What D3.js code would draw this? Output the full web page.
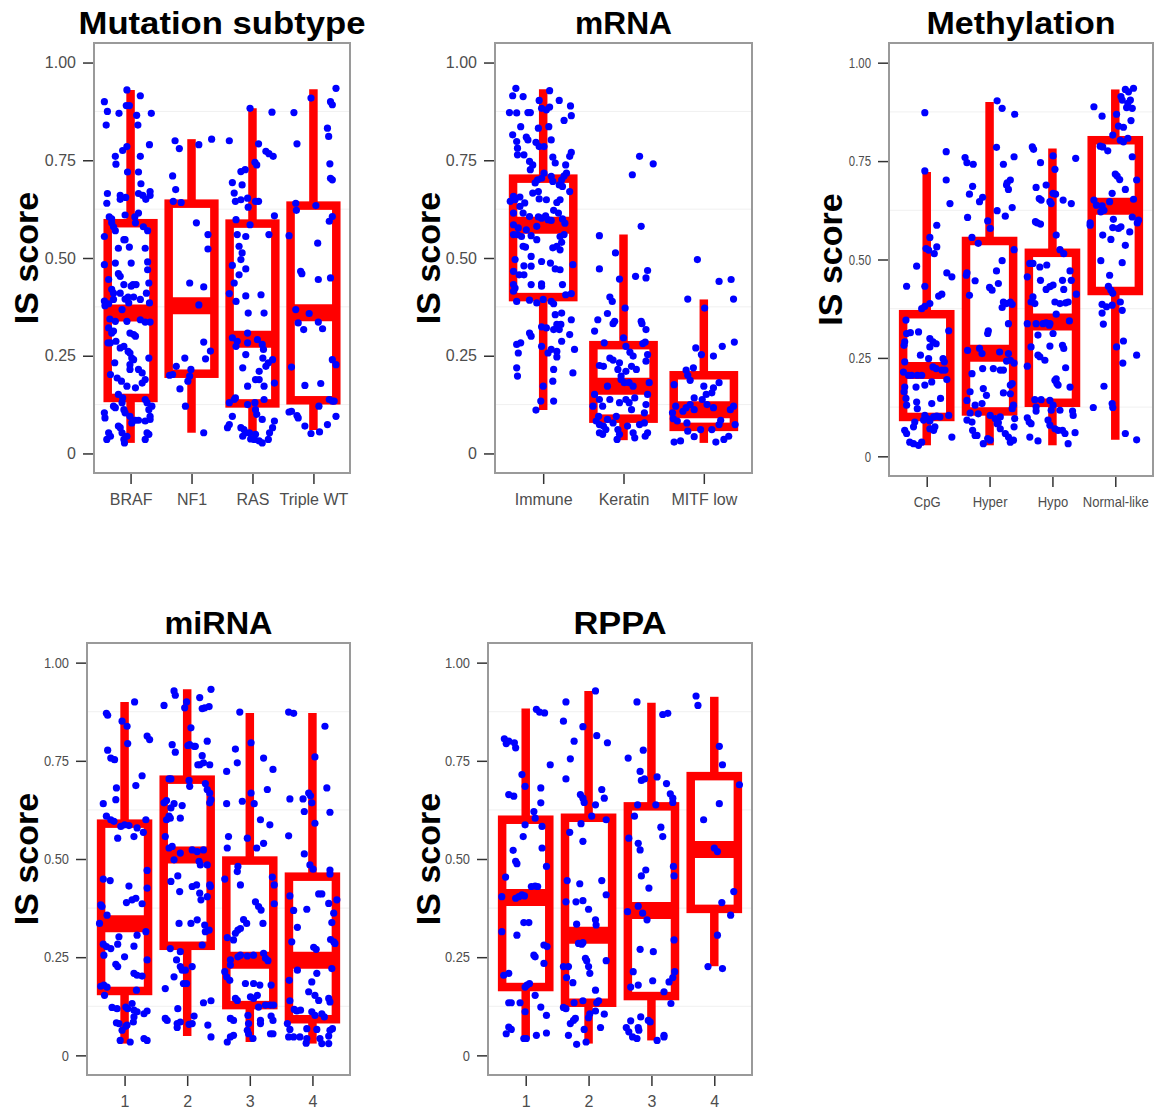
<!DOCTYPE html>
<html><head><meta charset="utf-8">
<script src="https://cdn.jsdelivr.net/npm/d3@7/dist/d3.min.js"></script>
<style>body{margin:0;background:#fff}svg{display:block}</style>
</head><body>
<svg id="chart" width="1156" height="1112"></svg>
<script>
// ---------------- DATA ----------------
const yTickValues = [0, 0.25, 0.5, 0.75, 1];
const yTickLabels = ["0", "0.25", "0.50", "0.75", "1.00"];
const gridValues = [0.125, 0.375, 0.625, 0.875];
const yAxisTitle = "IS score";

// box stats: [min, q1, median, q3, max]
const mutCategories = ["BRAF", "NF1", "RAS", "Triple WT"];
const mutBoxes = [[0.027,0.142,0.359,0.589,0.93],[0.053,0.204,0.378,0.639,0.804],[0.032,0.128,0.292,0.588,0.883],[0.06,0.136,0.36,0.634,0.932]];
const mrnaCategories = ["Immune", "Keratin", "MITF low"];
const mrnaBoxes = [[0.111,0.40,0.584,0.703,0.932],[0.034,0.089,0.172,0.277,0.56],[0.027,0.068,0.112,0.20,0.394]];
const methCategories = ["CpG", "Hyper", "Hypo", "Normal-like"];
const methBoxes = [[0.028,0.10,0.218,0.361,0.722],[0.028,0.114,0.262,0.547,0.90],[0.028,0.136,0.341,0.517,0.782],[0.042,0.42,0.635,0.803,0.932]];
const mirnaCategories = ["1", "2", "3", "4"];
const mirnaBoxes = [[0.03,0.164,0.335,0.59,0.90],[0.049,0.279,0.51,0.702,0.932],[0.034,0.128,0.242,0.496,0.872],[0.03,0.092,0.242,0.455,0.872]];
const rppaCategories = ["1", "2", "3", "4"];
const rppaBoxes = [[0.043,0.174,0.402,0.60,0.883],[0.03,0.134,0.306,0.605,0.928],[0.038,0.151,0.369,0.634,0.898],[0.227,0.373,0.524,0.711,0.913]];

// jittered points: [horizontal jitter (category units), IS score]
const mutBRAF = [[-0.43,0.90],[-0.38,0.875],[-0.40,0.84],[-0.19,0.87],[-0.06,0.93],[0.16,0.915],[-0.07,0.89],[-0.02,0.89],[0.10,0.865],[0.12,0.84],[0.34,0.87],[0.31,0.79],[-0.25,0.76],[-0.24,0.74],[-0.13,0.775],[-0.06,0.785],[-0.05,0.72],[0.16,0.76],[0.13,0.72],[0.17,0.69],[0.13,0.665],[0.20,0.66],[0.25,0.65],[0.32,0.67],[0.32,0.66],[-0.38,0.665],[-0.39,0.64],[-0.17,0.66],[-0.08,0.655],[-0.35,0.605],[-0.31,0.60],[-0.17,0.65],[0.07,0.605],[0.13,0.615],[-0.31,0.59],[-0.28,0.58],[-0.25,0.57],[-0.43,0.555],[-0.09,0.61],[-0.09,0.547],[0.08,0.59],[0.21,0.58],[0.28,0.57],[-0.20,0.525],[-0.11,0.547],[-0.02,0.528],[0.01,0.487],[0.24,0.525],[0.28,0.49],[0.28,0.47],[-0.43,0.483],[-0.25,0.487],[-0.20,0.46],[-0.17,0.453],[-0.11,0.432],[-0.36,0.445],[-0.31,0.42],[-0.28,0.41],[-0.17,0.41],[-0.04,0.40],[0.01,0.428],[0.04,0.432],[0.09,0.432],[-0.09,0.395],[-0.03,0.385],[0.05,0.40],[0.16,0.394],[0.26,0.41],[0.30,0.436],[0.31,0.385],[-0.43,0.39],[-0.36,0.383],[-0.42,0.378],[-0.28,0.394],[-0.14,0.368],[-0.34,0.344],[-0.25,0.338],[-0.36,0.321],[-0.28,0.313],[-0.31,0.308],[-0.06,0.338],[-0.01,0.308],[0.05,0.304],[0.08,0.30],[0.16,0.342],[0.24,0.336],[0.32,0.336],[-0.37,0.283],[-0.33,0.283],[-0.24,0.287],[-0.17,0.27],[-0.11,0.274],[-0.04,0.261],[-0.01,0.257],[0.02,0.244],[0.05,0.24],[-0.01,0.227],[-0.01,0.215],[0.13,0.215],[0.19,0.206],[0.30,0.244],[-0.26,0.232],[-0.33,0.202],[-0.22,0.193],[-0.15,0.185],[-0.06,0.172],[0.24,0.189],[0.19,0.18],[0.08,0.168],[-0.20,0.151],[-0.13,0.142],[-0.14,0.13],[-0.11,0.112],[-0.09,0.104],[-0.01,0.095],[0.02,0.078],[0.08,0.085],[0.13,0.085],[0.24,0.083],[-0.43,0.104],[-0.42,0.091],[-0.36,0.053],[-0.39,0.036],[-0.33,0.044],[-0.28,0.121],[-0.25,0.117],[-0.20,0.07],[-0.17,0.066],[-0.14,0.053],[-0.11,0.036],[-0.10,0.027],[-0.06,0.044],[0.24,0.138],[0.27,0.13],[0.30,0.112],[0.32,0.095],[0.35,0.121],[0.27,0.053],[0.30,0.049],[0.24,0.036],[0.32,0.087]];
const mutNF1 = [[-0.27,0.80],[-0.20,0.78],[0.12,0.79],[-0.31,0.71],[-0.26,0.675],[-0.30,0.645],[-0.17,0.642],[0.08,0.59],[0.27,0.56],[0.27,0.523],[-0.03,0.436],[0.20,0.426],[0.12,0.38],[0.20,0.285],[0.31,0.262],[0.23,0.242],[-0.11,0.244],[-0.25,0.223],[-0.36,0.20],[-0.31,0.202],[-0.01,0.215],[-0.03,0.198],[-0.06,0.185],[-0.19,0.165],[-0.10,0.121],[0.20,0.053],[0.33,0.804]];
const mutRAS = [[-0.38,0.80],[-0.04,0.883],[0.10,0.792],[0.32,0.873],[0.04,0.745],[0.07,0.738],[0.22,0.773],[0.27,0.767],[0.34,0.76],[-0.33,0.693],[-0.30,0.666],[-0.19,0.721],[-0.12,0.726],[-0.17,0.687],[-0.19,0.649],[-0.28,0.645],[-0.27,0.598],[-0.08,0.653],[-0.07,0.63],[0.05,0.645],[0.10,0.645],[-0.04,0.585],[0.36,0.608],[-0.25,0.56],[-0.11,0.555],[0.27,0.56],[-0.22,0.53],[-0.17,0.513],[-0.19,0.496],[-0.11,0.472],[-0.22,0.457],[-0.33,0.481],[-0.30,0.436],[-0.38,0.409],[-0.27,0.389],[-0.11,0.403],[0.14,0.406],[-0.07,0.359],[0.19,0.359],[-0.08,0.308],[-0.33,0.296],[-0.25,0.287],[-0.08,0.283],[-0.27,0.274],[-0.11,0.253],[0.08,0.291],[0.16,0.279],[0.05,0.189],[0.18,0.266],[0.17,0.244],[0.33,0.24],[0.22,0.223],[0.36,0.18],[-0.16,0.219],[-0.08,0.172],[0.11,0.189],[0.19,0.172],[0.26,0.232],[0.11,0.21],[-0.38,0.13],[-0.30,0.138],[-0.28,0.142],[-0.08,0.125],[0.04,0.13],[0.19,0.138],[-0.33,0.095],[-0.38,0.074],[-0.41,0.066],[-0.19,0.066],[-0.14,0.061],[-0.16,0.044],[-0.11,0.053],[-0.05,0.053],[0.05,0.112],[0.07,0.10],[0.16,0.087],[0.05,0.049],[0.11,0.032],[0.16,0.027],[0.26,0.036],[0.28,0.053],[0.33,0.066],[0.36,0.083],[-0.03,0.037],[0.03,0.036]];
const mutTripleWT = [[-0.32,0.872],[-0.27,0.792],[-0.04,0.909],[0.37,0.934],[0.28,0.90],[0.31,0.892],[0.23,0.832],[0.25,0.811],[0.27,0.741],[0.28,0.704],[0.31,0.70],[-0.29,0.64],[-0.28,0.622],[-0.40,0.557],[0.04,0.634],[0.31,0.606],[0.26,0.594],[0.07,0.538],[-0.19,0.46],[-0.21,0.466],[0.08,0.445],[0.28,0.449],[-0.29,0.368],[-0.25,0.334],[-0.16,0.317],[-0.07,0.358],[0.08,0.336],[0.15,0.319],[0.31,0.24],[0.37,0.227],[-0.36,0.221],[-0.14,0.174],[0.12,0.179],[-0.36,0.108],[-0.40,0.106],[-0.27,0.097],[-0.25,0.091],[-0.14,0.07],[-0.04,0.051],[0.10,0.055],[0.09,0.121],[0.23,0.074],[0.34,0.134],[0.37,0.095],[0.26,0.138],[0.31,0.134]];

const mrnaImmune = [[-0.34,0.934],[-0.38,0.915],[-0.25,0.913],[0.08,0.928],[-0.05,0.903],[0.20,0.903],[0.34,0.889],[0.35,0.864],[0.26,0.852],[-0.42,0.872],[-0.33,0.871],[-0.19,0.872],[-0.16,0.872],[-0.02,0.883],[0.04,0.879],[0.08,0.886],[-0.28,0.836],[-0.06,0.832],[0.07,0.836],[-0.38,0.815],[-0.33,0.798],[-0.21,0.809],[-0.19,0.802],[-0.09,0.796],[-0.05,0.785],[0.10,0.802],[0.01,0.785],[-0.32,0.781],[-0.32,0.764],[-0.24,0.764],[-0.17,0.747],[-0.13,0.738],[-0.16,0.726],[0.12,0.758],[0.15,0.743],[0.35,0.77],[0.33,0.76],[0.28,0.738],[0.01,0.717],[-0.37,0.658],[-0.41,0.645],[-0.35,0.649],[-0.29,0.656],[-0.13,0.666],[-0.06,0.67],[-0.02,0.704],[-0.07,0.70],[-0.10,0.692],[0.10,0.709],[0.12,0.696],[0.23,0.70],[0.26,0.71],[0.29,0.717],[0.20,0.687],[0.24,0.683],[0.33,0.67],[-0.29,0.632],[-0.23,0.641],[-0.05,0.651],[0.04,0.649],[0.17,0.642],[0.21,0.649],[-0.37,0.615],[-0.25,0.615],[-0.17,0.606],[-0.06,0.605],[-0.02,0.602],[0.03,0.608],[0.13,0.622],[0.19,0.615],[0.24,0.60],[0.27,0.589],[-0.37,0.585],[-0.31,0.577],[-0.21,0.572],[-0.08,0.581],[0.06,0.598],[0.10,0.596],[-0.37,0.56],[-0.32,0.56],[-0.27,0.555],[-0.15,0.557],[-0.08,0.547],[0.21,0.555],[0.26,0.56],[0.23,0.54],[-0.25,0.53],[-0.22,0.528],[-0.15,0.504],[-0.02,0.491],[0.09,0.487],[0.12,0.526],[0.17,0.53],[0.21,0.521],[-0.35,0.496],[-0.24,0.48],[-0.37,0.466],[-0.30,0.457],[-0.24,0.457],[-0.15,0.479],[0.21,0.47],[0.37,0.483],[-0.37,0.432],[-0.35,0.423],[-0.15,0.432],[-0.02,0.434],[-0.02,0.428],[0.15,0.472],[0.24,0.432],[-0.37,0.415],[-0.33,0.389],[-0.17,0.392],[0.00,0.394],[0.10,0.389],[0.13,0.383],[0.28,0.406],[0.35,0.409],[-0.08,0.385],[0.15,0.355],[0.23,0.359],[0.17,0.33],[0.20,0.317],[0.22,0.33],[0.35,0.342],[-0.02,0.324],[0.04,0.321],[0.13,0.317],[-0.17,0.308],[-0.15,0.30],[0.33,0.304],[0.23,0.287],[0.10,0.266],[0.17,0.261],[0.17,0.247],[0.39,0.266],[0.06,0.257],[-0.28,0.283],[-0.33,0.279],[-0.31,0.257],[-0.33,0.219],[-0.32,0.198],[0.13,0.215],[0.12,0.185],[0.37,0.206],[-0.02,0.274],[0.00,0.172],[0.13,0.134],[-0.09,0.111],[-0.03,0.134]];
const mrnaKeratin = [[0.20,0.76],[0.11,0.713],[0.37,0.741],[0.22,0.581],[-0.30,0.557],[-0.30,0.472],[-0.10,0.513],[0.30,0.468],[0.28,0.449],[-0.05,0.446],[0.15,0.453],[-0.17,0.40],[-0.14,0.389],[-0.20,0.358],[0.02,0.372],[-0.11,0.338],[-0.13,0.332],[-0.32,0.342],[-0.36,0.313],[0.22,0.338],[0.23,0.332],[0.28,0.317],[0.27,0.285],[0.24,0.281],[0.00,0.296],[-0.24,0.283],[0.03,0.274],[0.12,0.249],[0.08,0.259],[0.30,0.253],[0.28,0.236],[-0.17,0.244],[-0.13,0.239],[-0.05,0.232],[-0.07,0.215],[-0.03,0.198],[0.03,0.21],[0.10,0.223],[0.16,0.215],[-0.30,0.225],[-0.25,0.223],[-0.20,0.172],[-0.36,0.151],[-0.38,0.121],[-0.30,0.138],[-0.26,0.121],[-0.03,0.189],[0.01,0.181],[0.07,0.181],[0.12,0.172],[-0.17,0.138],[-0.05,0.13],[0.03,0.138],[0.07,0.13],[0.10,0.112],[0.14,0.142],[0.30,0.151],[0.28,0.125],[0.26,0.104],[0.32,0.181],[-0.31,0.095],[-0.34,0.083],[-0.30,0.074],[-0.25,0.07],[-0.22,0.061],[-0.20,0.087],[-0.13,0.078],[-0.09,0.095],[-0.07,0.061],[-0.05,0.049],[-0.08,0.036],[0.05,0.07],[0.12,0.053],[0.14,0.04],[0.20,0.074],[0.26,0.078],[0.30,0.053],[0.27,0.044],[-0.30,0.053],[-0.26,0.049]];
const mrnaMITF = [[-0.08,0.496],[-0.20,0.395],[0.01,0.372],[0.19,0.44],[0.34,0.445],[0.37,0.395],[0.38,0.285],[0.23,0.274],[0.12,0.249],[-0.10,0.27],[-0.03,0.253],[-0.37,0.176],[-0.22,0.213],[-0.13,0.219],[-0.20,0.20],[-0.17,0.187],[0.00,0.172],[0.12,0.168],[0.19,0.181],[0.10,0.155],[0.03,0.151],[-0.02,0.138],[-0.12,0.142],[-0.17,0.125],[-0.22,0.117],[-0.26,0.108],[-0.35,0.121],[-0.39,0.104],[-0.38,0.089],[-0.33,0.083],[-0.21,0.078],[-0.12,0.112],[0.04,0.125],[0.12,0.117],[0.21,0.085],[0.19,0.074],[0.10,0.061],[-0.04,0.061],[-0.12,0.043],[-0.20,0.057],[-0.29,0.032],[-0.37,0.029],[0.15,0.029],[0.25,0.036],[0.31,0.044],[0.33,0.112],[0.39,0.074],[0.37,0.121]];

const methCpG = [[-0.03,0.873],[0.31,0.774],[0.31,0.702],[0.37,0.642],[-0.03,0.725],[0.16,0.587],[0.05,0.556],[-0.01,0.528],[0.03,0.524],[0.12,0.515],[0.16,0.532],[-0.16,0.483],[-0.32,0.432],[-0.03,0.432],[0.19,0.407],[0.24,0.412],[0.05,0.388],[-0.03,0.381],[-0.08,0.375],[0.32,0.466],[0.40,0.456],[-0.33,0.346],[-0.32,0.312],[-0.26,0.314],[-0.13,0.316],[-0.35,0.291],[-0.36,0.282],[0.05,0.299],[0.10,0.291],[0.15,0.286],[-0.10,0.257],[0.03,0.248],[0.26,0.248],[0.28,0.24],[0.35,0.319],[-0.35,0.24],[0.05,0.278],[-0.37,0.214],[-0.29,0.206],[-0.24,0.206],[-0.15,0.206],[-0.08,0.206],[0.10,0.227],[0.15,0.223],[0.24,0.219],[0.29,0.219],[-0.35,0.176],[-0.36,0.164],[-0.17,0.176],[-0.03,0.181],[-0.33,0.147],[-0.32,0.13],[-0.16,0.138],[-0.15,0.121],[0.08,0.189],[0.08,0.134],[0.22,0.147],[-0.03,0.104],[0.01,0.096],[0.05,0.09],[0.11,0.10],[0.16,0.102],[0.21,0.10],[0.35,0.104],[0.05,0.07],[0.11,0.066],[0.13,0.075],[-0.19,0.087],[-0.21,0.075],[-0.35,0.066],[-0.32,0.058],[-0.27,0.036],[-0.21,0.032],[-0.13,0.028],[-0.08,0.036],[0.40,0.049],[-0.05,0.092],[0.32,0.195]];
const methHyper = [[0.12,0.903],[0.20,0.884],[0.40,0.869],[0.11,0.785],[0.22,0.742],[0.39,0.761],[-0.39,0.759],[-0.36,0.746],[-0.26,0.742],[-0.27,0.686],[-0.32,0.666],[-0.11,0.658],[-0.16,0.647],[0.28,0.695],[0.30,0.678],[0.27,0.689],[0.33,0.702],[0.36,0.632],[0.12,0.624],[0.25,0.61],[-0.35,0.607],[-0.03,0.598],[0.01,0.579],[-0.28,0.556],[-0.18,0.541],[0.39,0.525],[0.20,0.497],[0.11,0.471],[-0.36,0.466],[-0.37,0.46],[-0.23,0.446],[0.00,0.429],[0.04,0.422],[0.14,0.439],[-0.32,0.409],[0.22,0.392],[0.27,0.388],[0.33,0.392],[0.36,0.386],[0.20,0.378],[0.30,0.337],[-0.02,0.319],[-0.03,0.312],[-0.35,0.269],[-0.16,0.274],[-0.12,0.261],[0.16,0.265],[0.30,0.261],[0.33,0.244],[0.27,0.242],[0.39,0.237],[-0.28,0.21],[-0.11,0.223],[0.06,0.223],[0.22,0.219],[0.17,0.219],[0.36,0.185],[0.33,0.181],[-0.31,0.164],[-0.05,0.155],[-0.10,0.172],[-0.36,0.142],[-0.23,0.13],[-0.12,0.134],[0.22,0.161],[0.33,0.159],[0.38,0.13],[0.36,0.121],[-0.31,0.11],[-0.28,0.087],[-0.36,0.092],[-0.18,0.108],[-0.27,0.066],[-0.23,0.053],[-0.20,0.053],[-0.10,0.032],[-0.03,0.045],[0.01,0.041],[0.01,0.104],[0.09,0.096],[0.17,0.10],[0.14,0.085],[0.12,0.083],[0.17,0.07],[0.25,0.058],[0.30,0.049],[0.33,0.036],[0.38,0.041],[0.39,0.075],[0.40,0.096]];
const methHypo = [[-0.32,0.786],[-0.30,0.78],[-0.19,0.746],[0.01,0.763],[0.04,0.729],[-0.10,0.689],[-0.26,0.683],[-0.21,0.655],[-0.18,0.651],[-0.24,0.593],[-0.27,0.596],[-0.19,0.59],[-0.04,0.647],[-0.02,0.642],[0.01,0.668],[0.05,0.666],[0.17,0.651],[0.30,0.642],[0.37,0.757],[0.06,0.562],[0.12,0.525],[0.18,0.515],[-0.40,0.456],[-0.36,0.49],[-0.31,0.49],[-0.20,0.481],[-0.09,0.486],[-0.19,0.447],[-0.10,0.424],[-0.04,0.431],[0.01,0.435],[0.04,0.392],[0.12,0.388],[0.28,0.471],[0.30,0.447],[0.16,0.447],[0.18,0.424],[0.38,0.412],[0.21,0.39],[0.25,0.392],[-0.31,0.405],[-0.34,0.392],[-0.28,0.388],[-0.40,0.337],[-0.26,0.337],[-0.15,0.337],[-0.10,0.339],[-0.04,0.337],[-0.05,0.333],[0.27,0.344],[0.06,0.361],[-0.23,0.308],[-0.34,0.278],[-0.04,0.28],[0.01,0.312],[0.16,0.282],[0.18,0.274],[-0.23,0.257],[-0.20,0.253],[-0.12,0.244],[-0.40,0.229],[0.21,0.225],[0.06,0.197],[0.04,0.193],[0.07,0.185],[0.09,0.181],[0.28,0.176],[-0.28,0.144],[-0.18,0.144],[-0.26,0.125],[-0.26,0.115],[-0.04,0.142],[0.01,0.13],[-0.02,0.117],[0.12,0.117],[-0.40,0.098],[-0.37,0.087],[-0.34,0.083],[-0.36,0.049],[-0.23,0.039],[-0.07,0.092],[-0.04,0.079],[0.04,0.07],[0.09,0.066],[0.16,0.066],[0.20,0.058],[0.25,0.032],[0.33,0.104],[0.36,0.06],[0.32,0.115]];
const methNormal = [[-0.34,0.888],[-0.21,0.864],[0.16,0.932],[0.21,0.926],[0.29,0.935],[0.09,0.914],[0.11,0.905],[0.24,0.905],[0.27,0.884],[0.18,0.886],[0.20,0.897],[0.02,0.869],[0.05,0.839],[0.13,0.836],[0.25,0.853],[-0.04,0.816],[0.08,0.803],[0.13,0.799],[0.20,0.808],[-0.24,0.788],[-0.20,0.786],[-0.12,0.776],[0.27,0.761],[0.00,0.717],[0.03,0.712],[0.07,0.703],[0.34,0.702],[0.16,0.678],[0.29,0.653],[-0.34,0.651],[-0.30,0.638],[-0.21,0.636],[-0.18,0.625],[-0.05,0.668],[-0.09,0.647],[-0.23,0.621],[-0.40,0.593],[-0.40,0.587],[0.27,0.608],[0.37,0.60],[0.35,0.593],[-0.03,0.602],[-0.04,0.581],[0.05,0.579],[0.09,0.583],[0.23,0.57],[-0.20,0.562],[-0.07,0.551],[0.16,0.536],[0.11,0.492],[-0.23,0.497],[-0.09,0.46],[-0.11,0.432],[-0.07,0.422],[-0.04,0.414],[-0.21,0.386],[-0.14,0.38],[-0.05,0.384],[0.08,0.392],[0.11,0.371],[-0.21,0.364],[-0.19,0.336],[0.02,0.278],[0.13,0.293],[0.12,0.237],[0.34,0.257],[-0.18,0.178],[-0.05,0.134],[-0.04,0.124],[-0.35,0.124],[0.16,0.058],[0.34,0.042]];

const mirna1 = [[-0.29,0.871],[-0.27,0.866],[0.16,0.90],[-0.04,0.851],[0.04,0.838],[0.05,0.794],[0.36,0.813],[0.40,0.804],[-0.27,0.777],[-0.22,0.757],[-0.16,0.753],[0.28,0.712],[0.18,0.687],[-0.13,0.681],[-0.14,0.651],[-0.34,0.641],[-0.29,0.609],[-0.22,0.60],[-0.17,0.596],[-0.06,0.583],[0.00,0.587],[0.07,0.585],[0.20,0.579],[0.34,0.60],[-0.11,0.553],[0.15,0.557],[0.30,0.568],[-0.34,0.449],[-0.23,0.445],[0.36,0.471],[0.36,0.426],[0.07,0.431],[0.03,0.389],[0.12,0.396],[0.18,0.40],[0.28,0.386],[-0.38,0.383],[-0.36,0.379],[-0.40,0.336],[-0.28,0.357],[-0.34,0.283],[-0.29,0.277],[-0.22,0.272],[-0.09,0.302],[-0.11,0.283],[0.20,0.306],[0.34,0.315],[-0.33,0.255],[-0.14,0.232],[-0.11,0.226],[0.00,0.251],[0.15,0.278],[0.36,0.243],[0.15,0.209],[0.20,0.204],[0.28,0.202],[-0.38,0.176],[-0.33,0.179],[-0.28,0.174],[-0.32,0.153],[0.19,0.166],[-0.20,0.122],[-0.12,0.119],[0.02,0.123],[0.05,0.119],[0.12,0.132],[0.15,0.115],[0.20,0.111],[0.15,0.098],[0.14,0.085],[-0.13,0.083],[-0.09,0.081],[-0.04,0.064],[0.02,0.074],[0.04,0.077],[-0.07,0.038],[0.09,0.034],[0.31,0.106],[0.36,0.113],[0.31,0.043],[0.36,0.038]];
const mirna2 = [[-0.37,0.891],[-0.21,0.928],[-0.19,0.917],[-0.01,0.90],[-0.04,0.885],[0.20,0.911],[0.24,0.883],[0.28,0.885],[0.35,0.888],[0.38,0.932],[0.06,0.834],[0.13,0.787],[0.32,0.80],[0.36,0.74],[-0.24,0.791],[-0.19,0.772],[0.01,0.789],[0.04,0.791],[0.11,0.787],[0.24,0.763],[0.26,0.745],[0.20,0.74],[0.17,0.74],[-0.29,0.704],[-0.26,0.704],[0.03,0.70],[0.04,0.685],[0.29,0.692],[0.32,0.677],[-0.33,0.649],[-0.37,0.643],[-0.26,0.63],[-0.21,0.641],[-0.08,0.636],[-0.29,0.609],[-0.33,0.60],[-0.27,0.604],[-0.11,0.604],[0.36,0.643],[0.36,0.668],[0.38,0.651],[-0.35,0.557],[-0.24,0.532],[-0.29,0.528],[-0.21,0.498],[-0.11,0.515],[0.08,0.523],[0.16,0.519],[0.19,0.494],[0.21,0.485],[0.32,0.485],[0.26,0.523],[-0.15,0.457],[-0.26,0.443],[-0.12,0.417],[0.08,0.43],[0.15,0.434],[0.20,0.413],[0.22,0.396],[0.32,0.404],[0.36,0.434],[0.37,0.43],[-0.13,0.336],[0.06,0.336],[0.16,0.345],[0.28,0.332],[0.29,0.315],[0.24,0.281],[0.35,0.319],[-0.27,0.272],[-0.11,0.264],[-0.17,0.243],[-0.11,0.226],[-0.08,0.217],[-0.03,0.217],[0.08,0.226],[-0.06,0.183],[-0.01,0.183],[-0.21,0.20],[-0.35,0.17],[0.08,0.081],[0.11,0.10],[0.26,0.134],[0.38,0.139],[-0.15,0.119],[-0.35,0.094],[-0.32,0.089],[-0.16,0.081],[-0.16,0.071],[-0.11,0.085],[0.03,0.079],[0.33,0.077],[0.38,0.047]];
const mirna3 = [[-0.16,0.874],[0.02,0.796],[-0.23,0.78],[-0.20,0.745],[0.22,0.757],[0.37,0.728],[-0.37,0.723],[0.28,0.677],[0.02,0.668],[0.07,0.641],[-0.12,0.647],[-0.37,0.641],[0.32,0.587],[0.17,0.60],[-0.34,0.557],[-0.36,0.528],[0.22,0.54],[-0.04,0.553],[0.11,0.528],[-0.40,0.449],[-0.19,0.481],[-0.20,0.468],[-0.15,0.434],[0.36,0.454],[0.39,0.434],[0.39,0.386],[0.09,0.391],[0.14,0.379],[0.18,0.37],[-0.10,0.346],[-0.05,0.336],[-0.19,0.319],[-0.15,0.323],[0.21,0.336],[-0.36,0.30],[-0.26,0.294],[-0.23,0.311],[-0.31,0.243],[-0.31,0.23],[-0.19,0.251],[-0.15,0.255],[-0.04,0.253],[0.06,0.255],[0.22,0.26],[0.25,0.247],[0.29,0.241],[-0.40,0.213],[-0.37,0.20],[-0.32,0.191],[-0.07,0.183],[0.06,0.183],[0.16,0.179],[0.34,0.179],[-0.23,0.145],[-0.20,0.14],[0.01,0.149],[0.06,0.145],[0.12,0.153],[0.14,0.123],[0.25,0.128],[0.33,0.128],[0.38,0.128],[-0.31,0.094],[-0.26,0.089],[-0.03,0.102],[-0.02,0.081],[-0.04,0.064],[-0.02,0.055],[0.05,0.043],[-0.31,0.047],[-0.36,0.034],[-0.26,0.051],[0.17,0.089],[0.17,0.081],[0.33,0.055],[0.37,0.055],[0.34,0.10],[0.37,0.089]];
const mirna4 = [[-0.38,0.874],[-0.30,0.871],[0.20,0.838],[0.04,0.76],[0.23,0.681],[0.28,0.619],[-0.36,0.653],[-0.15,0.653],[-0.06,0.668],[-0.03,0.661],[-0.01,0.643],[-0.13,0.621],[0.04,0.591],[-0.38,0.559],[-0.13,0.513],[-0.04,0.485],[0.01,0.474],[0.28,0.472],[0.28,0.462],[-0.36,0.406],[-0.30,0.369],[-0.24,0.326],[-0.09,0.372],[0.10,0.411],[0.15,0.411],[0.26,0.387],[0.39,0.396],[0.31,0.338],[0.34,0.362],[0.02,0.275],[0.06,0.27],[0.29,0.295],[0.34,0.289],[0.36,0.285],[-0.33,0.289],[-0.24,0.217],[-0.37,0.191],[0.31,0.221],[-0.01,0.187],[-0.06,0.162],[0.04,0.153],[0.07,0.209],[0.10,0.14],[0.26,0.145],[0.28,0.136],[-0.36,0.139],[-0.29,0.117],[-0.25,0.113],[-0.19,0.115],[-0.01,0.111],[0.04,0.102],[0.15,0.106],[0.19,0.098],[-0.40,0.081],[-0.36,0.066],[-0.38,0.047],[-0.30,0.047],[-0.20,0.047],[-0.09,0.043],[-0.10,0.031],[0.12,0.043],[0.26,0.049],[0.32,0.068],[0.28,0.064],[0.15,0.03],[0.26,0.03],[-0.09,0.068],[0.07,0.066]];

const rppa1 = [[-0.34,0.806],[-0.31,0.794],[-0.27,0.80],[-0.18,0.796],[-0.16,0.783],[0.17,0.881],[0.22,0.874],[0.30,0.872],[0.39,0.74],[-0.06,0.715],[-0.01,0.685],[-0.27,0.664],[-0.19,0.66],[0.24,0.681],[0.24,0.643],[0.13,0.621],[0.15,0.604],[-0.01,0.587],[0.26,0.583],[-0.04,0.557],[-0.20,0.522],[-0.16,0.494],[-0.14,0.488],[0.26,0.528],[0.33,0.481],[-0.32,0.454],[-0.38,0.404],[-0.16,0.40],[-0.11,0.404],[-0.06,0.409],[-0.02,0.406],[0.09,0.43],[0.15,0.431],[0.19,0.43],[-0.03,0.338],[0.05,0.338],[-0.14,0.306],[-0.38,0.315],[0.13,0.255],[0.15,0.251],[0.29,0.281],[0.34,0.277],[0.29,0.234],[-0.35,0.204],[-0.27,0.209],[-0.01,0.174],[0.02,0.179],[0.06,0.183],[-0.27,0.134],[-0.23,0.134],[-0.09,0.134],[-0.01,0.111],[0.15,0.153],[0.24,0.123],[0.33,0.102],[-0.31,0.055],[-0.27,0.072],[-0.23,0.066],[-0.03,0.043],[0.01,0.043],[0.17,0.051],[0.33,0.057]];
const rppa2 = [[-0.40,0.851],[-0.36,0.90],[0.11,0.928],[-0.09,0.837],[-0.23,0.80],[0.13,0.814],[0.30,0.796],[-0.29,0.755],[-0.36,0.704],[0.21,0.677],[0.25,0.655],[-0.13,0.664],[-0.09,0.655],[-0.07,0.644],[0.11,0.638],[0.05,0.609],[0.28,0.60],[-0.12,0.59],[-0.30,0.568],[-0.09,0.545],[-0.34,0.445],[-0.14,0.437],[0.21,0.445],[0.28,0.409],[-0.36,0.391],[-0.20,0.391],[-0.09,0.394],[0.00,0.372],[-0.19,0.334],[0.11,0.345],[0.12,0.332],[-0.16,0.285],[-0.11,0.283],[-0.09,0.287],[-0.32,0.226],[-0.40,0.226],[-0.05,0.247],[0.00,0.226],[-0.03,0.241],[0.02,0.209],[0.28,0.241],[-0.35,0.198],[-0.25,0.185],[0.11,0.166],[0.16,0.139],[0.13,0.134],[-0.23,0.134],[-0.09,0.139],[0.02,0.106],[0.00,0.096],[0.11,0.113],[0.25,0.105],[-0.40,0.122],[-0.36,0.119],[-0.29,0.081],[-0.24,0.089],[-0.21,0.094],[0.19,0.071],[-0.32,0.051],[-0.07,0.066],[-0.19,0.028],[-0.04,0.034]];
const rppa3 = [[-0.23,0.90],[-0.37,0.757],[-0.13,0.777],[0.09,0.709],[-0.18,0.723],[-0.16,0.70],[-0.11,0.704],[0.18,0.868],[0.26,0.871],[0.24,0.692],[0.30,0.666],[0.34,0.655],[0.34,0.644],[-0.22,0.638],[0.07,0.638],[-0.27,0.609],[-0.36,0.553],[-0.21,0.54],[-0.18,0.523],[0.15,0.581],[0.18,0.557],[0.35,0.481],[0.36,0.457],[-0.09,0.472],[-0.16,0.457],[-0.04,0.426],[0.36,0.294],[-0.38,0.366],[-0.21,0.38],[-0.14,0.362],[-0.07,0.345],[0.37,0.213],[0.34,0.198],[0.28,0.187],[0.31,0.132],[0.20,0.162],[-0.29,0.213],[-0.33,0.174],[-0.18,0.27],[0.03,0.264],[0.02,0.19],[-0.21,0.179],[-0.33,0.088],[-0.17,0.098],[-0.05,0.089],[-0.02,0.085],[-0.40,0.071],[-0.36,0.06],[-0.30,0.047],[-0.23,0.043],[-0.20,0.064],[-0.21,0.071],[0.09,0.038],[0.20,0.047],[0.20,0.051]];
const rppa4 = [[-0.29,0.915],[-0.26,0.891],[0.08,0.787],[0.13,0.74],[0.40,0.689],[0.08,0.641],[-0.17,0.60],[0.00,0.528],[0.05,0.519],[0.31,0.417],[0.12,0.389],[0.26,0.357],[0.05,0.306],[-0.10,0.226],[0.13,0.221]];

const panelTitles = ["Mutation subtype", "mRNA", "Methylation", "miRNA", "RPPA"];

// ---------------- LAYOUT ----------------
const panels = [
  {title: panelTitles[0], titleW: 287, cats: mutCategories, boxes: mutBoxes, pts: [mutBRAF, mutNF1, mutRAS, mutTripleWT],
   left: 94, right: 350, top: 43, bottom: 473, labX: 38, yFont: 16, ySq: 1, xFont: 16, xSq: 1},
  {title: panelTitles[1], titleW: 97, cats: mrnaCategories, boxes: mrnaBoxes, pts: [mrnaImmune, mrnaKeratin, mrnaMITF],
   left: 495, right: 752, top: 43, bottom: 473, labX: 440, yFont: 16, ySq: 1, xFont: 16, xSq: 1},
  {title: panelTitles[2], titleW: 189, cats: methCategories, boxes: methBoxes, pts: [methCpG, methHyper, methHypo, methNormal],
   left: 889, right: 1153, top: 43, bottom: 476, labX: 842, yFont: 15, ySq: 0.76, xFont: 14.5, xSq: 0.9},
  {title: panelTitles[3], titleW: 108, cats: mirnaCategories, boxes: mirnaBoxes, pts: [mirna1, mirna2, mirna3, mirna4],
   left: 87, right: 350, top: 643, bottom: 1075, labX: 38, yFont: 15, ySq: 0.86, xFont: 16, xSq: 1},
  {title: panelTitles[4], titleW: 93, cats: rppaCategories, boxes: rppaBoxes, pts: [rppa1, rppa2, rppa3, rppa4],
   left: 488, right: 752, top: 643, bottom: 1075, labX: 440, yFont: 15, ySq: 0.86, xFont: 16, xSq: 1}
];

const svg = d3.select("#chart");
svg.append("rect").attr("width", 1156).attr("height", 1112).attr("fill", "#fff");
const FONT = "'Liberation Sans', Arial, sans-serif";
const RED = "#ff0000", BLUE = "#0000ff";

function squash(sel, k) {
  if (k === 1) return;
  sel.each(function () {
    const w = this.getComputedTextLength();
    d3.select(this).attr("textLength", w * k).attr("lengthAdjust", "spacingAndGlyphs");
  });
}

panels.forEach(p => {
  const g = svg.append("g");
  const x = d3.scalePoint().domain(p.cats).range([p.left, p.right]).padding(0.6);
  const y = d3.scaleLinear().domain([-0.05, 1.05]).range([p.bottom, p.top]);
  const step = x.step();
  const bw = 0.75 * step;

  g.append("rect").attr("x", p.left).attr("y", p.top).attr("width", p.right - p.left).attr("height", p.bottom - p.top).attr("fill", "#fff");
  g.selectAll(".grid").data(gridValues).join("line")
    .attr("x1", p.left).attr("x2", p.right).attr("y1", d => y(d)).attr("y2", d => y(d))
    .attr("stroke", "#f0f0f0").attr("stroke-width", 1);

  p.cats.forEach((c, i) => {
    const [mn, q1, md, q3, mx] = p.boxes[i];
    const cx = x(c);
    const bg = g.append("g");
    bg.append("line").attr("x1", cx).attr("x2", cx).attr("y1", y(q3)).attr("y2", y(mx))
      .attr("stroke", RED).attr("stroke-width", 8.5);
    bg.append("line").attr("x1", cx).attr("x2", cx).attr("y1", y(q1)).attr("y2", y(mn))
      .attr("stroke", RED).attr("stroke-width", 8.5);
    bg.append("rect").attr("x", cx - bw / 2).attr("y", y(q3)).attr("width", bw).attr("height", y(q1) - y(q3))
      .attr("fill", "#fff").attr("stroke", RED).attr("stroke-width", 8.5);
    bg.append("line").attr("x1", cx - bw / 2).attr("x2", cx + bw / 2).attr("y1", y(md)).attr("y2", y(md))
      .attr("stroke", RED).attr("stroke-width", 17);
  });

  p.cats.forEach((c, i) => {
    g.append("g").selectAll("circle").data(p.pts[i]).join("circle")
      .attr("cx", d => x(c) + d[0] * step).attr("cy", d => y(d[1])).attr("r", 3.6)
      .attr("fill", BLUE);
  });

  g.append("rect").attr("x", p.left).attr("y", p.top).attr("width", p.right - p.left).attr("height", p.bottom - p.top)
    .attr("fill", "none").attr("stroke", "#9a9a9a").attr("stroke-width", 2);

  const ya = g.append("g").attr("transform", `translate(${p.left - 1},0)`)
    .call(d3.axisLeft(y).tickValues(yTickValues).tickFormat((d, i) => yTickLabels[i]).tickSize(10).tickPadding(7).tickSizeOuter(0));
  ya.select(".domain").remove();
  ya.selectAll(".tick line").attr("stroke", "#333").attr("stroke-width", 1.5);
  ya.selectAll(".tick text").attr("fill", "#4d4d4d").attr("font-family", FONT).attr("font-size", p.yFont).call(squash, p.ySq);

  const xa = g.append("g").attr("transform", `translate(0,${p.bottom + 1})`)
    .call(d3.axisBottom(x).tickSize(10).tickPadding(10).tickSizeOuter(0));
  xa.select(".domain").remove();
  xa.selectAll(".tick line").attr("stroke", "#333").attr("stroke-width", 1.5);
  xa.selectAll(".tick text").attr("fill", "#4d4d4d").attr("font-family", FONT).attr("font-size", p.xFont).call(squash, p.xSq);

  g.append("text").attr("x", (p.left + p.right) / 2).attr("y", p.top - 9)
    .attr("text-anchor", "middle").attr("font-family", FONT).attr("font-weight", "bold").attr("font-size", 31)
    .attr("fill", "#000").attr("textLength", p.titleW).attr("lengthAdjust", "spacingAndGlyphs").text(p.title);

  g.append("text").attr("transform", `translate(${p.labX},${(p.top + p.bottom) / 2}) rotate(-90)`)
    .attr("text-anchor", "middle").attr("font-family", FONT).attr("font-weight", "bold").attr("font-size", 34)
    .attr("fill", "#000").text(yAxisTitle);
});
</script>
</body></html>
